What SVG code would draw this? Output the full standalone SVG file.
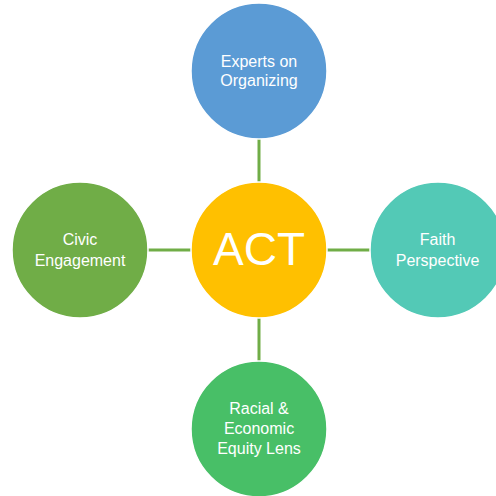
<svg xmlns="http://www.w3.org/2000/svg" width="496" height="496" viewBox="0 0 496 496">
<style>
.n{stroke:#fff;stroke-width:1.5}
.t{font-family:"Liberation Sans",Arial,sans-serif;font-size:16px;fill:#fff;text-anchor:middle}
.c{stroke:#70AD47;stroke-width:3;fill:none}
</style>
<rect width="496" height="496" fill="#fff"/>
<g id="connectors">
<line class="c" x1="259" y1="139" x2="259" y2="183"/>
<line class="c" x1="148" y1="250" x2="191" y2="250"/>
<line class="c" x1="327" y1="250" x2="370" y2="250"/>
<line class="c" x1="259" y1="318" x2="259" y2="361"/>
</g>
<g id="act">
<circle class="n" cx="259" cy="250" r="68" fill="#FFC000"/>
<text class="t" x="259" y="265" style="font-size:46px">ACT</text>
</g>
<g id="experts">
<circle class="n" cx="259" cy="71" r="68" fill="#5B9BD5"/>
<text class="t" x="259" y="66.5">Experts on</text>
<text class="t" x="259" y="86">Organizing</text>
</g>
<g id="civic">
<circle class="n" cx="80" cy="250" r="68" fill="#70AD47"/>
<text class="t" x="80" y="245">Civic</text>
<text class="t" x="80" y="265.5">Engagement</text>
</g>
<g id="faith">
<circle class="n" cx="438" cy="250" r="68" fill="#53C9B6"/>
<text class="t" x="437.5" y="245">Faith</text>
<text class="t" x="437.5" y="265.5">Perspective</text>
</g>
<g id="racial">
<circle class="n" cx="259" cy="429" r="68" fill="#48BF67"/>
<text class="t" x="259" y="414">Racial &amp;</text>
<text class="t" x="259" y="434">Economic</text>
<text class="t" x="259" y="453.5">Equity Lens</text>
</g>
</svg>
